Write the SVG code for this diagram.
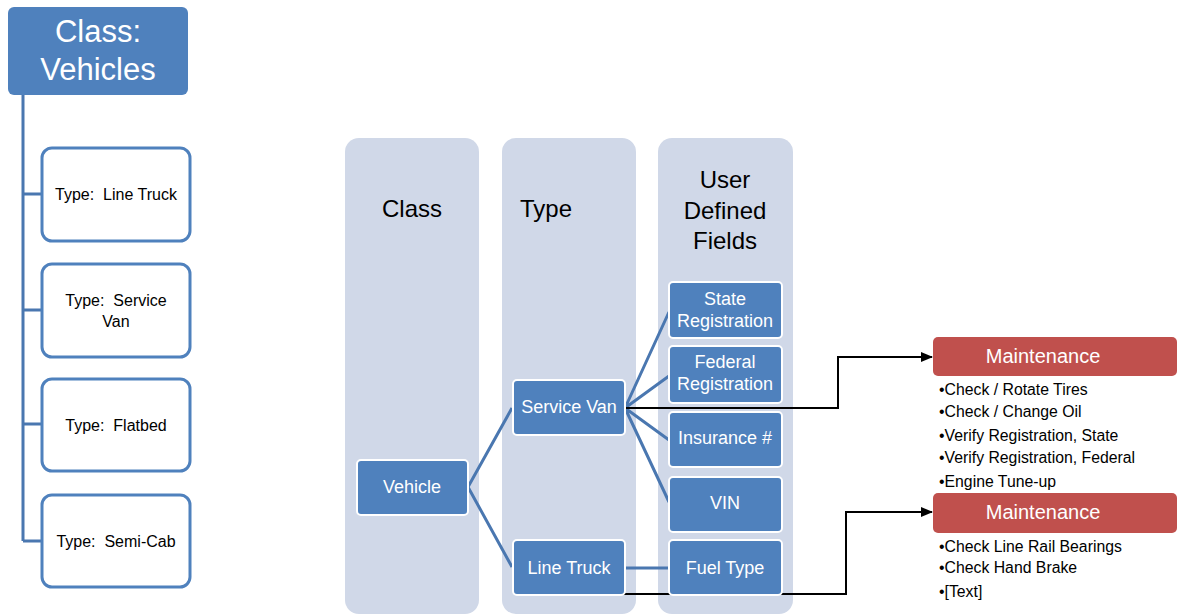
<svg xmlns="http://www.w3.org/2000/svg" width="1181" height="616" viewBox="0 0 1181 616">
<defs>
<style>
.t{font-family:"Liberation Sans",Arial,sans-serif}
.typebox{fill:#fff;stroke:#4F81BD;stroke-width:3}
.typetxt{font-size:16px;fill:#000;text-anchor:middle}
.col{fill:#D0D8E8}
.head{font-size:24px;fill:#000;text-anchor:middle}
.node{fill:#4F81BD;stroke:#fff;stroke-width:2}
.ntxt{font-size:18px;fill:#fff;text-anchor:middle}
.maint{fill:#C0504D}
.mtxt{font-size:20px;fill:#fff;text-anchor:middle}
.bul{font-size:15.8px;fill:#000}
.tree{stroke:#4A77B0;stroke-width:3;fill:none}
.blk{stroke:#000;stroke-width:2;fill:none}
</style>
<marker id="arr" markerWidth="12" markerHeight="10" refX="11" refY="5" orient="auto" markerUnits="userSpaceOnUse">
<path d="M0,0 L12,5 L0,10 Z" fill="#000"/>
</marker>
</defs>
<rect width="1181" height="616" fill="#fff"/>

<g id="connectors">
<path class="tree" d="M23,95 V541 M23,194 H42 M23,310 H42 M23,424 H42 M23,541 H42"/>
</g>

<g id="class-vehicles" class="t">
<rect x="8" y="7" width="180" height="88" rx="6" fill="#4F81BD"/>
<text x="98" y="42" font-size="31" fill="#fff" text-anchor="middle">Class:</text>
<text x="98" y="80" font-size="31" fill="#fff" text-anchor="middle">Vehicles</text>
</g>
<g id="type-line-truck" class="t">
<rect class="typebox" x="42" y="148" width="148" height="93" rx="10"/>
<text class="typetxt" x="116" y="200" xml:space="preserve">Type:  Line Truck</text>
</g>
<g id="type-service-van" class="t">
<rect class="typebox" x="42" y="264" width="148" height="93" rx="10"/>
<text class="typetxt" x="116" y="306" xml:space="preserve">Type:  Service</text>
<text class="typetxt" x="116" y="327">Van</text>
</g>
<g id="type-flatbed" class="t">
<rect class="typebox" x="42" y="379" width="148" height="92" rx="10"/>
<text class="typetxt" x="116" y="431" xml:space="preserve">Type:  Flatbed</text>
</g>
<g id="type-semi-cab" class="t">
<rect class="typebox" x="42" y="495" width="148" height="92" rx="10"/>
<text class="typetxt" x="116" y="547" xml:space="preserve">Type:  Semi-Cab</text>
</g>

<g id="col-class" class="t">
<rect class="col" x="345" y="138" width="134" height="476" rx="14"/>
<text class="head" x="412" y="217">Class</text>
</g>
<g id="col-type" class="t">
<rect class="col" x="502" y="138" width="134" height="476" rx="14"/>
<text class="head" x="546" y="217">Type</text>
</g>
<g id="col-udf" class="t">
<rect class="col" x="658" y="138" width="135" height="476" rx="14"/>
<text class="head" x="725" y="188">User</text>
<text class="head" x="725" y="219">Defined</text>
<text class="head" x="725" y="249">Fields</text>
</g>

<g id="tree-connectors">
<path class="tree" d="M468,487 L512,408 M468,487 L512,567 M625,408 L669,312 M625,408 L669,376 M625,408 L669,440 M625,408 L669,502 M625,568 H669"/>
<path class="blk" d="M625,408 H838 V357 H932" marker-end="url(#arr)"/>
<path class="blk" d="M622,594 H846 V512 H932" marker-end="url(#arr)"/>
</g>

<g id="vehicle" class="t">
<rect class="node" x="357" y="460" width="111" height="55" rx="4"/>
<text class="ntxt" x="412" y="493">Vehicle</text>
</g>
<g id="service-van" class="t">
<rect class="node" x="513" y="380" width="112" height="55" rx="4"/>
<text class="ntxt" x="569" y="413">Service Van</text>
</g>
<g id="line-truck" class="t">
<rect class="node" x="513" y="540" width="112" height="55" rx="4"/>
<text class="ntxt" x="569" y="574">Line Truck</text>
</g>
<g id="state-registration" class="t">
<rect class="node" x="669" y="282" width="113" height="56" rx="4"/>
<text class="ntxt" x="725" y="305">State</text>
<text class="ntxt" x="725" y="327">Registration</text>
</g>
<g id="federal-registration" class="t">
<rect class="node" x="669" y="346" width="113" height="57" rx="4"/>
<text class="ntxt" x="725" y="368">Federal</text>
<text class="ntxt" x="725" y="390">Registration</text>
</g>
<g id="insurance" class="t">
<rect class="node" x="669" y="412" width="113" height="55" rx="4"/>
<text class="ntxt" x="725" y="444">Insurance #</text>
</g>
<g id="vin" class="t">
<rect class="node" x="669" y="477" width="113" height="55" rx="4"/>
<text class="ntxt" x="725" y="509">VIN</text>
</g>
<g id="fuel-type" class="t">
<rect class="node" x="669" y="540" width="113" height="55" rx="4"/>
<text class="ntxt" x="725" y="574">Fuel Type</text>
</g>

<g id="maintenance-1" class="t">
<rect class="maint" x="933" y="337" width="244" height="39" rx="5"/>
<text class="mtxt" x="1043" y="363">Maintenance</text>
<text class="bul" x="939" y="395">•Check / Rotate Tires</text>
<text class="bul" x="939" y="417">•Check / Change Oil</text>
<text class="bul" x="939" y="441">•Verify Registration, State</text>
<text class="bul" x="939" y="463">•Verify Registration, Federal</text>
<text class="bul" x="939" y="487">•Engine Tune-up</text>
</g>
<g id="maintenance-2" class="t">
<rect class="maint" x="933" y="493" width="244" height="40" rx="5"/>
<text class="mtxt" x="1043" y="519">Maintenance</text>
<text class="bul" x="939" y="552">•Check Line Rail Bearings</text>
<text class="bul" x="939" y="573">•Check Hand Brake</text>
<text class="bul" x="939" y="597">•[Text]</text>
</g>
</svg>
